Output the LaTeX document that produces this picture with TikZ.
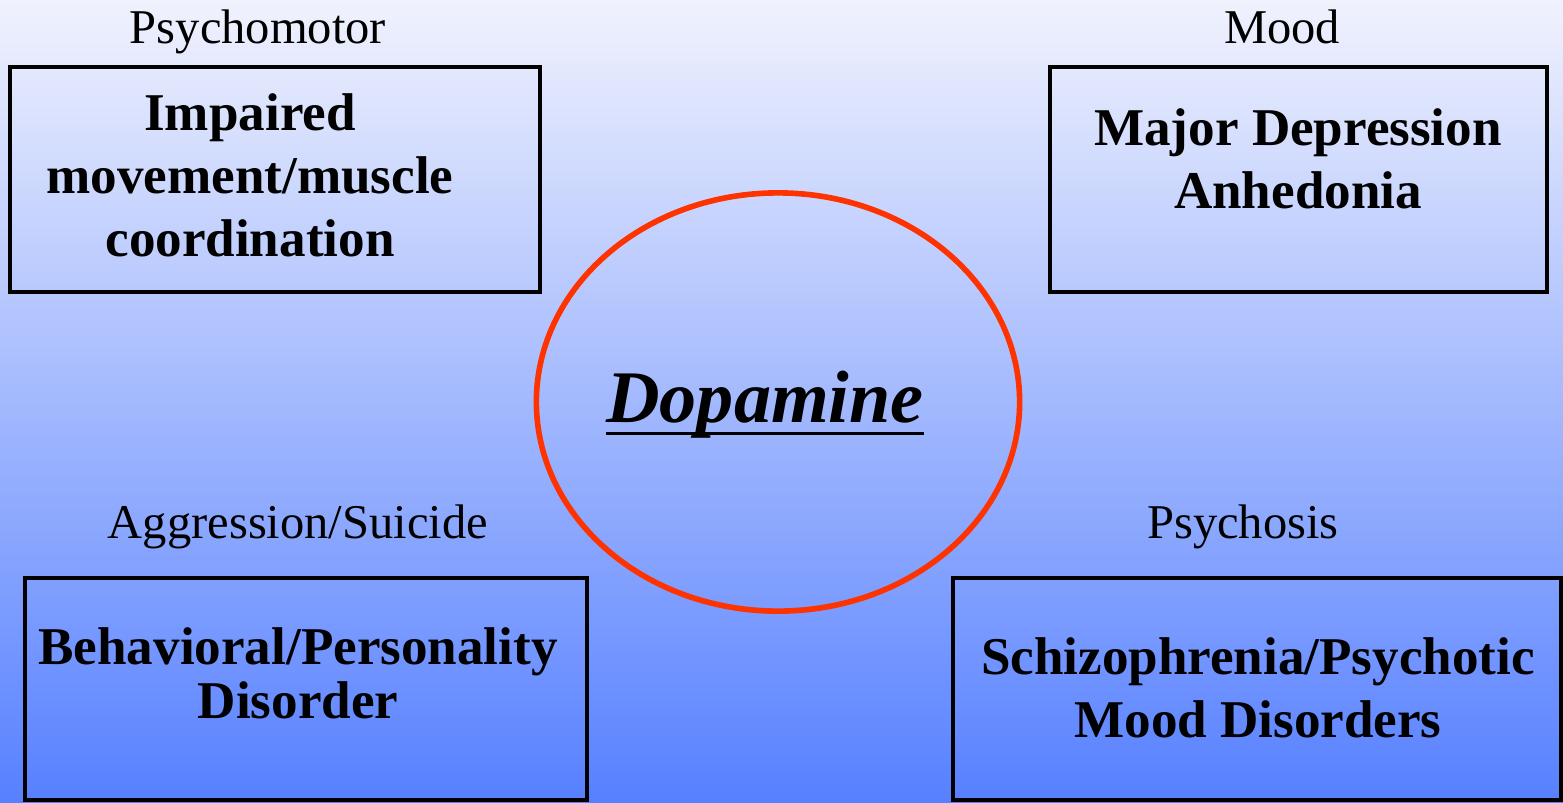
\documentclass[tikz,border=0pt]{standalone}
\usepackage{fontspec}
\setmainfont{Liberation Serif}
\usetikzlibrary{shapes.geometric}
\definecolor{bgtop}{RGB}{240,242,253}
\definecolor{bgbottom}{RGB}{86,128,255}
\definecolor{ringred}{RGB}{255,51,0}

\begin{document}
\begin{tikzpicture}[x=0.01cm,y=-0.01cm]
      \tikzstyle{panel} = [rectangle, draw=black, line width=1.3pt, inner sep=0pt]
      \tikzstyle{category} = [anchor=base, inner sep=0pt, font=\fontsize{13.8}{16}\selectfont]
      \tikzstyle{symptom} = [align=center, inner sep=0pt, font=\fontsize{15.1}{17.9}\selectfont\bfseries]
      \useasboundingbox (0,0) rectangle (1563,802);
      \shade[top color=bgtop, bottom color=bgbottom] (0,0) rectangle (1563,802);
      % boxes
      \node (box-psychomotor) [panel, minimum width=5.3cm, minimum height=2.25cm] at (275,179.5) {};
      \node (box-mood) [panel, minimum width=4.97cm, minimum height=2.25cm] at (1298.5,179.5) {};
      \node (box-aggression) [panel, minimum width=5.62cm, minimum height=2.22cm] at (306,689) {};
      \node (box-psychosis) [panel, minimum width=6.08cm, minimum height=2.22cm] at (1257,689) {};
      % headings
      \node (psychomotor) [category] at (258,43) {Psychomotor};
      \node (mood) [category] at (1282,43) {Mood};
      \node (aggression) [category] at (298,538) {Aggression/Suicide};
      \node (psychosis) [category] at (1243,538) {Psychosis};
      % box texts
      \node (t-psychomotor) [symptom] at (250,175) {Impaired\\movement/muscle\\coordination};
      \node (t-mood) [symptom] at (1298,159) {Major Depression\\Anhedonia};
      \node (t-aggression) [symptom, font=\fontsize{15.1}{15.3}\selectfont\bfseries] at (298,673) {Behavioral/Personality\\Disorder};
      \node (t-psychosis) [symptom] at (1258,688) {Schizophrenia/Psychotic\\Mood Disorders};
      % centre
      \node (ring) [ellipse, draw=ringred, line width=1.6pt, minimum width=4.83cm, minimum height=4.18cm] at (778,402) {};
      \node (dopamine) [anchor=base, inner sep=0pt, font=\fontsize{21.1}{25}\selectfont\bfseries\itshape] at (765,422) {Dopamine};
      \draw [line width=0.9pt] ([yshift=-3.2pt]dopamine.base west) -- ([yshift=-3.2pt]dopamine.base east);
  \end{tikzpicture}
\end{document}
